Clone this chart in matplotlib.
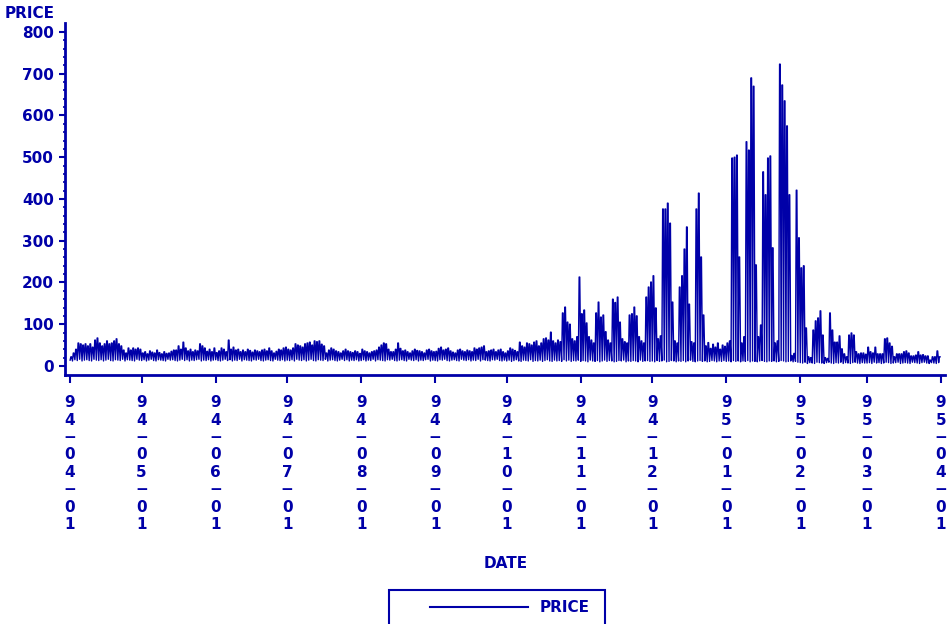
import numpy as np
import pandas as pd
import matplotlib
matplotlib.use("Agg")
import matplotlib.pyplot as plt
import matplotlib.dates as mdates
from matplotlib.patches import Rectangle
from matplotlib.lines import Line2D

# daily high / low price, 94-04-01 .. 95-03-31 (month by month)
high_apr = [22, 31, 40, 55, 53, 50, 53, 48, 53, 45, 62, 67, 55, 48, 53, 60, 53, 55, 60, 65, 53, 48, 38, 31, 43, 38, 43, 40, 43, 40]
high_may = [31, 34, 29, 36, 33, 31, 38, 32, 29, 34, 30, 31, 35, 38, 38, 48, 40, 57, 43, 36, 40, 34, 38, 36, 53, 48, 43, 35, 40, 34, 43]
high_jun = [32, 36, 43, 40, 34, 62, 40, 45, 38, 40, 34, 38, 34, 40, 37, 33, 38, 36, 34, 38, 40, 36, 43, 36, 31, 35, 40, 38, 43, 45]
high_jul = [40, 38, 43, 53, 50, 48, 45, 53, 55, 57, 50, 60, 58, 60, 52, 48, 31, 38, 43, 40, 36, 34, 31, 36, 40, 36, 34, 32, 36, 34, 30]
high_aug = [40, 36, 34, 31, 34, 36, 38, 45, 50, 55, 53, 40, 34, 34, 40, 55, 42, 36, 38, 34, 31, 36, 40, 37, 36, 34, 31, 38, 40, 36, 34]
high_sep = [35, 42, 45, 38, 40, 43, 36, 33, 31, 38, 40, 36, 34, 38, 36, 34, 43, 40, 43, 45, 48, 34, 36, 38, 40, 34, 38, 40, 34, 31]
high_oct = [36, 43, 40, 37, 34, 57, 48, 45, 55, 53, 50, 57, 60, 48, 55, 65, 67, 62, 81, 60, 55, 62, 58, 127, 141, 105, 100, 65, 60, 70, 213]
high_nov = [125, 134, 103, 70, 62, 55, 127, 153, 117, 122, 82, 62, 55, 160, 152, 165, 105, 65, 58, 55, 122, 125, 141, 120, 70, 60, 55, 165, 189, 201]
high_dec = [216, 139, 65, 72, 376, 376, 390, 342, 153, 60, 55, 189, 216, 280, 333, 148, 58, 55, 376, 414, 261, 122, 48, 56, 42, 52, 45, 55, 40, 50, 47]
high_jan = [55, 60, 498, 500, 505, 261, 55, 70, 537, 517, 690, 670, 242, 70, 98, 465, 410, 498, 503, 283, 55, 60, 723, 673, 635, 575, 410, 25, 30, 421, 307]
high_feb = [235, 240, 91, 22, 20, 86, 108, 115, 132, 74, 20, 18, 127, 86, 57, 57, 72, 41, 29, 22, 74, 79, 74, 34, 29, 31, 31, 28]
high_mar = [45, 34, 31, 45, 29, 29, 29, 65, 67, 55, 47, 22, 29, 29, 29, 34, 36, 31, 24, 24, 26, 34, 26, 27, 24, 24, 14, 22, 22, 36, 22]

low_apr = [14, 12, 15, 13, 16, 12, 14, 15, 13, 12, 16, 14, 13, 15, 12, 14, 16, 13, 12, 15, 14, 13, 16, 12, 15, 14, 13, 12, 16, 14]
low_may = [13, 15, 12, 14, 16, 13, 12, 15, 14, 13, 12, 16, 14, 15, 13, 12, 14, 16, 13, 15, 12, 14, 13, 15, 16, 12, 14, 13, 15, 12, 14]
low_jun = [15, 13, 12, 14, 16, 13, 15, 12, 14, 13, 16, 12, 15, 14, 13, 12, 15, 14, 16, 13, 12, 14, 15, 13, 12, 16, 14, 13, 15, 12]
low_jul = [14, 13, 15, 12, 16, 14, 13, 15, 12, 14, 16, 13, 12, 15, 14, 13, 16, 12, 14, 15, 13, 12, 14, 16, 13, 15, 12, 14, 13, 15, 12]
low_aug = [13, 15, 12, 14, 13, 16, 12, 15, 14, 13, 12, 15, 14, 16, 13, 12, 14, 15, 13, 12, 16, 14, 13, 15, 12, 14, 13, 15, 16, 12, 14]
low_sep = [13, 12, 15, 14, 16, 13, 12, 14, 15, 13, 12, 16, 14, 13, 15, 12, 14, 13, 16, 12, 15, 14, 13, 12, 15, 14, 16, 13, 12, 14]
low_oct = [12, 14, 11, 13, 15, 12, 11, 14, 13, 12, 15, 11, 13, 12, 14, 11, 13, 15, 12, 11, 14, 12, 13, 11, 15, 12, 14, 11, 13, 12, 14]
low_nov = [11, 13, 12, 10, 14, 12, 11, 13, 10, 12, 14, 11, 13, 12, 10, 11, 13, 12, 14, 10, 12, 11, 13, 12, 10, 14, 11, 12, 13, 11]
low_dec = [12, 10, 13, 11, 12, 14, 10, 11, 13, 12, 10, 12, 11, 13, 10, 12, 14, 11, 10, 12, 13, 11, 12, 10, 11, 13, 12, 10, 12, 11, 13]
low_jan = [11, 12, 10, 13, 11, 12, 10, 12, 11, 13, 10, 12, 11, 10, 12, 13, 11, 10, 12, 11, 12, 10, 11, 13, 12, 10, 11, 12, 10, 11, 9]
low_feb = [8, 7, 9, 6, 8, 7, 6, 9, 8, 7, 6, 8, 9, 7, 6, 8, 7, 9, 6, 8, 7, 6, 8, 9, 7, 6, 8, 7]
low_mar = [7, 8, 6, 9, 7, 8, 6, 7, 9, 8, 6, 7, 8, 9, 6, 7, 8, 7, 6, 9, 8, 7, 6, 8, 9, 7, 6, 8, 7, 6, 8]

highs = (high_apr + high_may + high_jun + high_jul + high_aug + high_sep
         + high_oct + high_nov + high_dec + high_jan + high_feb + high_mar)
lows = (low_apr + low_may + low_jun + low_jul + low_aug + low_sep
        + low_oct + low_nov + low_dec + low_jan + low_feb + low_mar)

days = pd.date_range("1994-04-01", periods=len(highs), freq="D")
month_ticks = pd.date_range("1994-04-01", "1995-04-01", freq="MS")

BLUE = "#0000A8"
plt.rcParams["font.family"] = ["DejaVu Sans"]
plt.rcParams["font.weight"] = "bold"

# each day: low in the night, high plateau during the day
t = np.column_stack([days + pd.Timedelta(hours=1),
                     days + pd.Timedelta(hours=9),
                     days + pd.Timedelta(hours=15)]).ravel()
v = np.column_stack([lows, highs, highs]).ravel()

W, H = 947, 624
fig = plt.figure(figsize=(W / 100, H / 100), dpi=100)
ax = fig.add_axes([65 / W, 1 - 375 / H, (945 - 65) / W, (375 - 23) / H])

ax.plot(t, v, color=BLUE, lw=1.0)

x0 = mdates.date2num(pd.Timestamp("1994-04-01"))
x1 = mdates.date2num(pd.Timestamp("1995-04-01"))
ax.set_xlim(x0 - 2.1, x1 + 1.7)
ax.set_ylim(-21.6, 821.5)

for s in ["top", "right"]:
    ax.spines[s].set_visible(False)
for s in ["left", "bottom"]:
    ax.spines[s].set_color(BLUE)
    ax.spines[s].set_linewidth(2)

ax.set_yticks(np.arange(0, 801, 100))
ax.set_yticks(np.arange(0, 801, 20), minor=True)
ax.tick_params(axis="y", which="major", length=4.3, width=1.5, color=BLUE,
               labelcolor=BLUE, labelsize=11, pad=3.6)
ax.tick_params(axis="y", which="minor", length=1.8, width=1.2, color=BLUE)

labels = ["\n".join("\u2212" if c == "-" else c for c in d.strftime("%y-%m-%d"))
          for d in month_ticks]
ax.set_xticks(mdates.date2num(month_ticks))
ax.set_xticklabels(labels, linespacing=1.2)
ax.xaxis.set_minor_locator(plt.NullLocator())
ax.tick_params(axis="x", length=5.5, width=1.5, color=BLUE, labelcolor=BLUE,
               labelsize=11, pad=9)

fig.text(5 / W, 1 - 14 / H, "PRICE", color=BLUE, fontsize=11, ha="left", va="center")
fig.text(506 / W, 1 - 563 / H, "DATE", color=BLUE, fontsize=11, ha="center", va="center")

# legend box, running off the bottom edge
fig.add_artist(Rectangle((389 / W, 1 - 640 / H), (605 - 389) / W, 50 / H,
                         transform=fig.transFigure, fill=False, ec=BLUE, lw=1.5))
fig.add_artist(Line2D([430 / W, 528 / W], [1 - 607 / H, 1 - 607 / H],
                      transform=fig.transFigure, color=BLUE, lw=1.5))
fig.text(540 / W, 1 - 607 / H, "PRICE", color=BLUE, fontsize=11, ha="left", va="center")

fig.savefig("out.png", dpi=100)
